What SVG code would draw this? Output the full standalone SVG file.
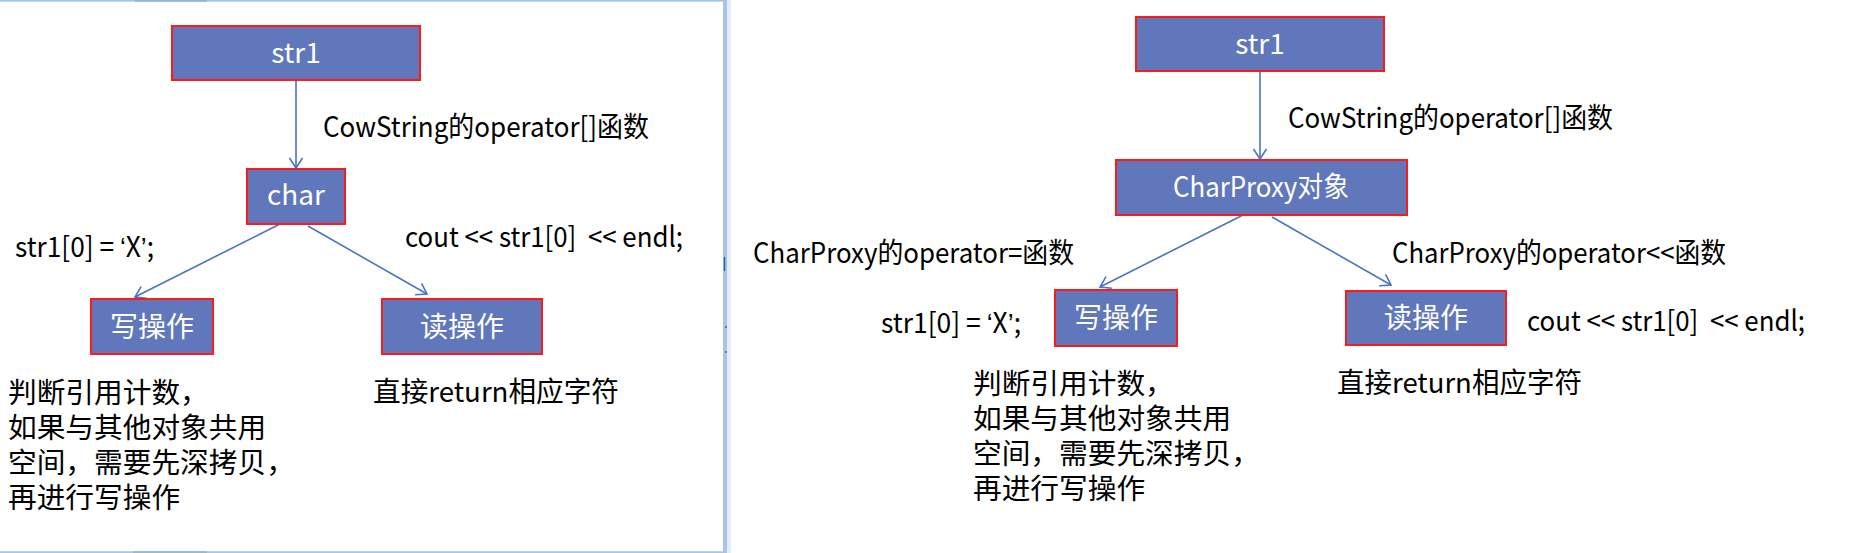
<svg xmlns="http://www.w3.org/2000/svg" width="1856" height="553" viewBox="0 0 1856 553">
<style>
.box{fill:#6077BB;stroke:#FF1A1A;stroke-width:2}
.bl{font-family:"Noto Sans CJK SC","Liberation Sans",sans-serif;font-size:28px;fill:#FFFFFF;text-anchor:middle}
.t{font-family:"Noto Sans CJK SC","Liberation Sans",sans-serif;font-size:28px;fill:#000000}
.q{font-family:"Liberation Sans",sans-serif}
.p{font-family:"Noto Sans CJK SC","Liberation Sans",sans-serif;font-size:28.7px;fill:#000000}
.c{stroke:#4A73C6;stroke-width:1.6;fill:none;marker-end:url(#ah)}
</style>
<defs>
<marker id="ah" markerUnits="userSpaceOnUse" markerWidth="16" markerHeight="16" viewBox="0 0 16 16" refX="13" refY="8" orient="auto">
<path d="M3,1.5 L13,8 L3,14.5" fill="none" stroke="#4A73C6" stroke-width="1.6"/>
</marker>
</defs>
<rect width="1856" height="553" fill="#FFFFFF"/>
<g id="frame">
<rect x="0" y="0" width="727" height="1.6" fill="#9CC5EE"/>
<rect x="135" y="0" width="72" height="1.6" fill="#8DB4DE"/>
<rect x="0" y="551.2" width="727" height="1.8" fill="#A6C6EA"/>
<rect x="133" y="551.2" width="74" height="1.8" fill="#9AB5D6"/>
<rect x="723" y="0" width="4" height="553" fill="#A9C3E3"/>
<rect x="727" y="0" width="4" height="553" fill="#E2EDFA"/>
<line x1="724.5" y1="257" x2="724.5" y2="271" stroke="#2B63A8" stroke-width="1.5"/>
<circle cx="726" cy="327" r="0.9" fill="#555555"/>
<circle cx="726" cy="352" r="0.9" fill="#555555"/>
</g>
<g id="connectors">
<line class="c" x1="296" y1="80" x2="296" y2="168"/>
<line class="c" x1="280" y1="224" x2="135" y2="297"/>
<line class="c" x1="308" y1="226" x2="427" y2="294"/>
<line class="c" x1="1260" y1="71" x2="1260" y2="159"/>
<line class="c" x1="1243" y1="215" x2="1100" y2="287"/>
<line class="c" x1="1272" y1="217" x2="1391" y2="285"/>
</g>
<g id="L_str1"><rect class="box" x="172" y="26" width="248" height="54"/><text class="bl" x="296" y="63">str1</text></g>
<g id="L_char"><rect class="box" x="247" y="169" width="98" height="55"/><text class="bl" x="296" y="205">char</text></g>
<g id="L_write"><rect class="box" x="91" y="299" width="122" height="55"/><text class="bl" x="152" y="337" font-size="28.7">写操作</text></g>
<g id="L_read"><rect class="box" x="382" y="299" width="160" height="55"/><text class="bl" x="462" y="337" font-size="28.7">读操作</text></g>
<g id="R_str1"><rect class="box" x="1136" y="17" width="248" height="54"/><text class="bl" x="1260" y="54">str1</text></g>
<g id="R_proxy"><rect class="box" x="1116" y="160" width="291" height="55"/><text class="bl" x="1261" y="197" textLength="176" lengthAdjust="spacingAndGlyphs">CharProxy对象</text></g>
<g id="R_write"><rect class="box" x="1055" y="290" width="122" height="56"/><text class="bl" x="1116" y="328" font-size="28.7">写操作</text></g>
<g id="R_read"><rect class="box" x="1346" y="291" width="160" height="54"/><text class="bl" x="1426" y="328" font-size="28.7">读操作</text></g>
<g id="labels">
<text class="t" x="323" y="137" textLength="326" lengthAdjust="spacingAndGlyphs">CowString的operator[]函数</text>
<text class="t" x="15" y="257" textLength="139" lengthAdjust="spacingAndGlyphs">str1[0] = <tspan class="q">‘</tspan>X<tspan class="q">’</tspan>;</text>
<text class="t" x="405" y="247" xml:space="preserve" textLength="278" lengthAdjust="spacingAndGlyphs">cout &lt;&lt; str1[0]  &lt;&lt; endl;</text>
<text class="t" x="373" y="402" textLength="246" lengthAdjust="spacingAndGlyphs">直接return相应字符</text>
<text class="p" x="8" y="403">判断引用计数，</text>
<text class="p" x="8" y="438">如果与其他对象共用</text>
<text class="p" x="8" y="473">空间，需要先深拷贝，</text>
<text class="p" x="8" y="508">再进行写操作</text>
<text class="t" x="1288" y="128" textLength="325" lengthAdjust="spacingAndGlyphs">CowString的operator[]函数</text>
<text class="t" x="753" y="263" textLength="321" lengthAdjust="spacingAndGlyphs">CharProxy的operator=函数</text>
<text class="t" x="1392" y="263" textLength="334" lengthAdjust="spacingAndGlyphs">CharProxy的operator&lt;&lt;函数</text>
<text class="t" x="881" y="333" textLength="140" lengthAdjust="spacingAndGlyphs">str1[0] = <tspan class="q">‘</tspan>X<tspan class="q">’</tspan>;</text>
<text class="t" x="1527" y="331" xml:space="preserve" textLength="278" lengthAdjust="spacingAndGlyphs">cout &lt;&lt; str1[0]  &lt;&lt; endl;</text>
<text class="t" x="1337" y="393" textLength="245" lengthAdjust="spacingAndGlyphs">直接return相应字符</text>
<text class="p" x="973" y="394">判断引用计数，</text>
<text class="p" x="973" y="429">如果与其他对象共用</text>
<text class="p" x="973" y="464">空间，需要先深拷贝，</text>
<text class="p" x="973" y="499">再进行写操作</text>
</g>
</svg>
